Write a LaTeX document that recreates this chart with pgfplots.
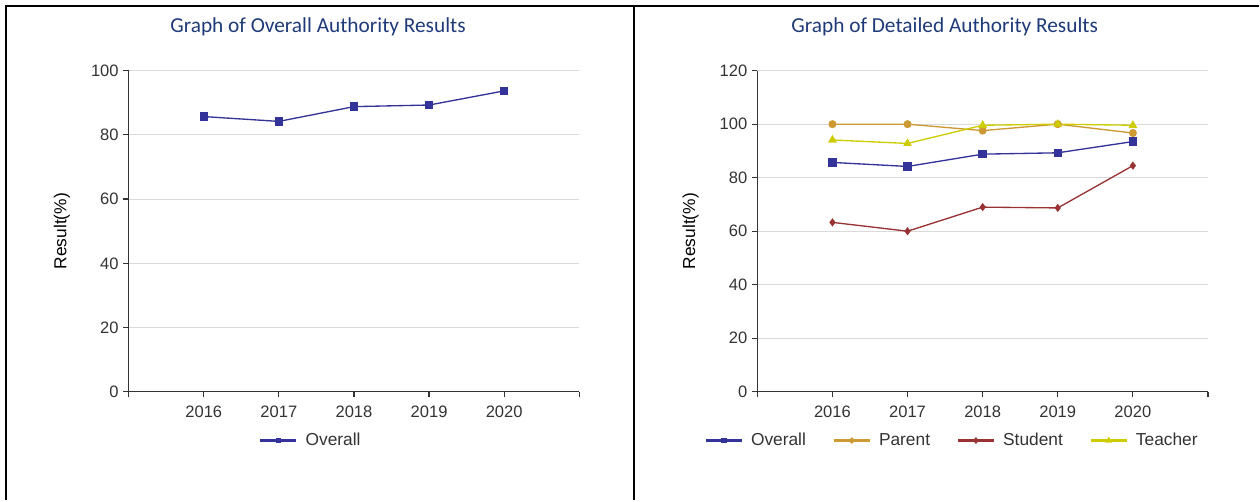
\documentclass[border=0pt]{standalone}
\usepackage{fontspec}
\setmainfont{Liberation Sans}
\newfontfamily\titlefont{Carlito}
\usepackage{pgfplots}
\pgfplotsset{compat=1.18}
\definecolor{cOverall}{HTML}{333399}
\definecolor{cParent}{HTML}{CC9933}
\definecolor{cStudent}{HTML}{993333}
\definecolor{cTeacher}{HTML}{CCCC00}
\definecolor{cTitle}{HTML}{1F3A78}
\definecolor{cAxis}{HTML}{333333}
\definecolor{cGrid}{HTML}{DADADA}
\pgfplotsset{
  myaxis/.style={
    scale only axis,
    width=338pt, height=240.8pt,
    xmin=2015, xmax=2021, ymin=0,
    xtick={2015,...,2021},
    xticklabels={,2016,2017,2018,2019,2020,},
    /pgf/number format/assume math mode=true,
    axis x line*=bottom, axis y line*=left,
    axis line style={cAxis, line width=1.1pt, -},
    tick align=outside,
    major tick length=4pt,
    tick style={cAxis, line width=0.9pt},
    ymajorgrids, grid style={cGrid, line width=0.8pt},
    ticklabel style={font=\fontsize{12.4}{14}\selectfont, text=cAxis},
    xticklabel style={yshift=-3pt},
    ylabel={Result(\%)},
    ylabel style={font=\fontsize{13}{15}\selectfont, text=black, at={(axis description cs:-0.148,0.5)}, anchor=center},
    legend style={draw=none, fill=none, font=\fontsize{13}{15}\selectfont, text=cAxis, anchor=center,
      /tikz/every odd column/.append style={column sep=4pt},
      /tikz/every even column/.append style={column sep=18pt}},
    legend cell align=left,
    legend image code/.code={\draw[##1, line width=1.8pt, mark repeat=2, mark phase=2, mark size=1.2pt] plot coordinates {(0pt,0pt)(13.5pt,0pt)(27pt,0pt)};},
    every axis plot/.append style={line width=1pt},
  }
}
\begin{document}
\begin{tikzpicture}
\path (0,0) rectangle (945pt,375pt);
\draw[line width=1.6pt] (3.75pt,370.5pt) -- (944pt,370.5pt);
\draw[line width=1.6pt] (4.5pt,371.3pt) -- (4.5pt,0pt);
\draw[line width=1.6pt] (475.5pt,371.3pt) -- (475.5pt,0pt);
\node[font=\titlefont\fontsize{16}{18}\selectfont, text=cTitle] at (238.5pt,355pt) {Graph of Overall Authority Results};
\node[font=\titlefont\fontsize{16}{18}\selectfont, text=cTitle] at (708.5pt,355pt) {Graph of Detailed Authority Results};

\begin{axis}[myaxis, at={(96.5pt,81.2pt)}, anchor=south west,
  ymax=100, ytick={0,20,...,100},
  legend style={at={(axis description cs:0.405,-0.152)}}]
\addplot[cOverall, mark=square*, mark size=2.7pt] coordinates {(2016,85.7) (2017,84.2) (2018,88.8) (2019,89.3) (2020,93.7)};
\addlegendentry{Overall}
\end{axis}

\begin{axis}[myaxis, at={(568pt,81.2pt)}, anchor=south west,
  ymax=120, ytick={0,20,...,120},
  legend columns=4,
  legend style={at={(axis description cs:0.433,-0.152)}}]
\addplot[cOverall, mark=square*, mark size=2.7pt] coordinates {(2016,85.7) (2017,84.2) (2018,88.8) (2019,89.3) (2020,93.5)};
\addlegendentry{Overall}
\addplot[cParent, mark=*, mark size=2.5pt] coordinates {(2016,100) (2017,100) (2018,97.6) (2019,100) (2020,96.7)};
\addlegendentry{Parent}
\addplot[cStudent, mark=diamond*, mark size=2.3pt] coordinates {(2016,63.3) (2017,60.0) (2018,69.0) (2019,68.7) (2020,84.5)};
\addlegendentry{Student}
\addplot[cTeacher, mark=triangle*, mark size=2.8pt] coordinates {(2016,94.1) (2017,92.8) (2018,99.6) (2019,100) (2020,99.6)};
\addlegendentry{Teacher}
\end{axis}
\end{tikzpicture}
\end{document}
